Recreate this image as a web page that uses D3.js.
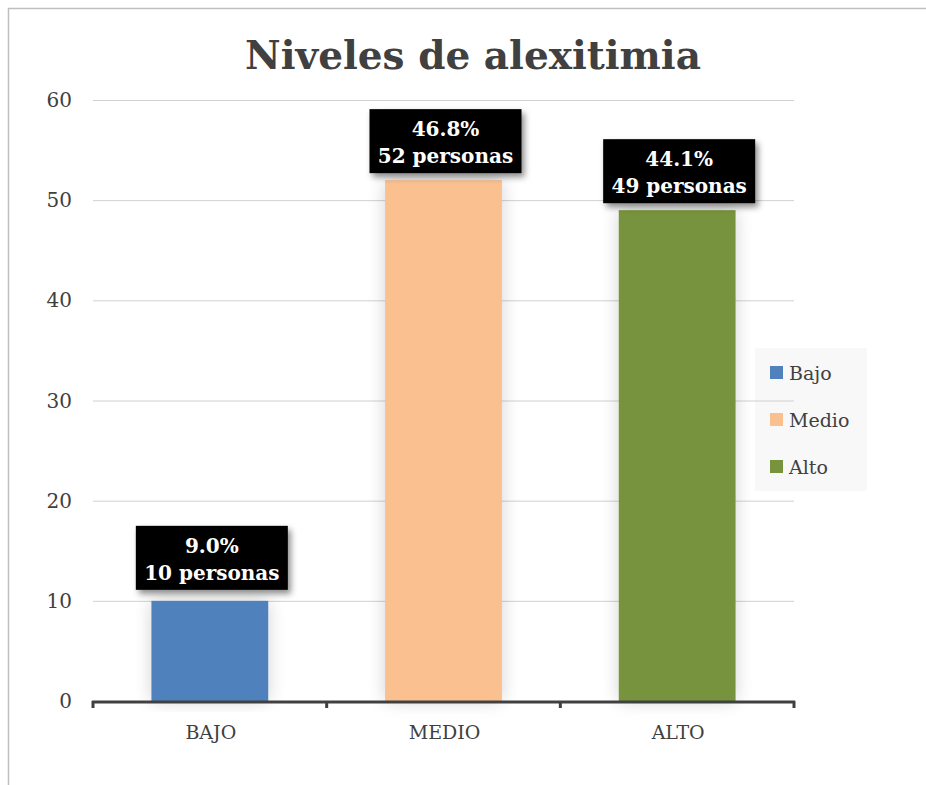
<!DOCTYPE html>
<html><head><meta charset="utf-8">
<script src="https://cdn.jsdelivr.net/npm/d3@7"></script>
<style>body{margin:0;background:#fff}svg{display:block}</style>
</head><body>
<script>
const categories = ["BAJO", "MEDIO", "ALTO"];
const seriesNames = ["Bajo", "Medio", "Alto"];
const values = [10, 52, 49];
const percents = ["9.0%", "46.8%", "44.1%"];
const colors = ["#4f81bd", "#fac090", "#77933c"];
const yTicks = [0, 10, 20, 30, 40, 50, 60];
const title = "Niveles de alexitimia";

const W = 926, H = 785;
const svg = d3.select("body").append("svg").attr("width", W).attr("height", H);
const defs = svg.append("defs");
const glow = defs.append("filter").attr("id","glow").attr("x","-30%").attr("y","-10%").attr("width","160%").attr("height","120%");
glow.append("feGaussianBlur").attr("in","SourceAlpha").attr("stdDeviation",9).attr("result","b");
glow.append("feComponentTransfer").attr("in","b").attr("result","c").append("feFuncA").attr("type","linear").attr("slope",0.18);
const gm = glow.append("feMerge"); gm.append("feMergeNode").attr("in","c"); gm.append("feMergeNode").attr("in","SourceGraphic");
const sh = defs.append("filter").attr("id","shadow").attr("x","-20%").attr("y","-20%").attr("width","140%").attr("height","150%");
sh.append("feDropShadow").attr("dx",3).attr("dy",4).attr("stdDeviation",3).attr("flood-color","#000").attr("flood-opacity",0.45);

const FONT = "'DejaVu Serif','Liberation Serif',serif";
// frame
svg.append("path").attr("d", `M8.5,${H} V8.5 H${W}`).attr("fill","none").attr("stroke","#bfbfbf").attr("stroke-width",1.5);

const x = d3.scaleBand().domain(categories).range([93, 794]).paddingInner(0.5).paddingOuter(0.25);
const y = d3.scaleLinear().domain([0, 60]).range([701, 100]);

// legend background
svg.append("rect").attr("x",755).attr("y",348).attr("width",112).attr("height",143).attr("fill","#f8f8f8");

// gridlines
svg.append("g").selectAll("line").data(yTicks.slice(1)).join("line")
  .attr("x1",93).attr("x2",794).attr("y1",d=>y(d)+0.5).attr("y2",d=>y(d)+0.5)
  .attr("stroke","#d0d0d0").attr("stroke-width",1);

// y labels
svg.append("g").selectAll("text").data(yTicks).join("text")
  .attr("x",72).attr("y",d=>y(d)+7).attr("text-anchor","end")
  .attr("font-family",FONT).attr("font-size",20).attr("fill","#404040").text(d=>d);

// bars
svg.append("g").selectAll("rect").data(values).join("rect")
  .attr("x",(d,i)=>x(categories[i])).attr("width",x.bandwidth())
  .attr("y",d=>y(d)).attr("height",d=>y(0)-y(d))
  .attr("fill",(d,i)=>colors[i]).attr("filter","url(#glow)");

// x axis
svg.append("line").attr("x1",92).attr("x2",795).attr("y1",702).attr("y2",702).attr("stroke","#404040").attr("stroke-width",3);
const edges = categories.map((c,i)=> i===0 ? 93 : (x(categories[i-1]) + x.bandwidth() + x(c))/2).concat([794]);
svg.append("g").selectAll("line").data(edges).join("line")
  .attr("x1",d=>d).attr("x2",d=>d).attr("y1",701).attr("y2",708)
  .attr("stroke","#404040").attr("stroke-width",3);
svg.append("g").selectAll("text").data(categories).join("text")
  .attr("x",d=>x(d)+x.bandwidth()/2+1).attr("y",739).attr("text-anchor","middle")
  .attr("font-family",FONT).attr("font-size",19).attr("fill","#404040").text(d=>d);

// data labels
const lab = svg.append("g").selectAll("g").data(values).join("g")
  .attr("transform",(d,i)=>`translate(${x(categories[i])+x.bandwidth()/2+2},${y(d) - (i===0?11:7)})`);
lab.append("rect").attr("x",-76).attr("y",-64).attr("width",152).attr("height",64).attr("fill","#000").attr("filter","url(#shadow)");
lab.append("text").attr("text-anchor","middle").attr("y",-37).attr("font-family",FONT).attr("font-weight","bold")
  .attr("font-size",20).attr("fill","#fff").text((d,i)=>percents[i]);
lab.append("text").attr("text-anchor","middle").attr("y",-10).attr("font-family",FONT).attr("font-weight","bold")
  .attr("font-size",20).attr("fill","#fff").text(d=>d+" personas");

// legend
const lg = svg.append("g").selectAll("g").data(seriesNames).join("g")
  .attr("transform",(d,i)=>`translate(770,${366+i*47})`);
lg.append("rect").attr("width",13).attr("height",13).attr("fill",(d,i)=>colors[i]);
lg.append("text").attr("x",19).attr("y",14).attr("font-family",FONT).attr("font-size",19).attr("fill","#404040").text(d=>d);

// title
svg.append("text").attr("x",473).attr("y",69).attr("text-anchor","middle")
  .attr("font-family",FONT).attr("font-weight","bold").attr("font-size",39).attr("fill","#404040").text(title);
</script>
</body></html>
